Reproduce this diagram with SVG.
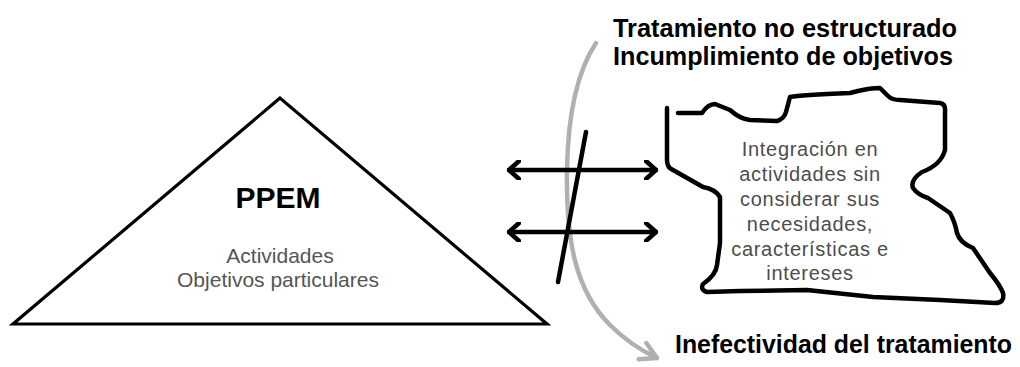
<svg xmlns="http://www.w3.org/2000/svg" width="1020" height="367" viewBox="0 0 1020 367">
  <defs>
    <style>
      .title { font-family: "Liberation Sans", Arial, sans-serif; font-weight: bold; font-size: 26px; fill: #000; }
      .body { font-family: "Liberation Sans", Arial, sans-serif; font-size: 21px; fill: #555; text-anchor: middle; }
      .blobtxt { font-family: "Liberation Sans", Arial, sans-serif; font-size: 20px; fill: #4d4d4d; text-anchor: middle; letter-spacing: 0.7px; }
      .shape { fill: #fff; stroke: #000; }
      .link { fill: none; stroke: #000; stroke-width: 4.5; stroke-linecap: round; stroke-linejoin: round; }
      .curve { fill: none; stroke: #b0b0b0; stroke-width: 4.5; stroke-linecap: round; }
    </style>
    <marker id="chev" viewBox="-12 -10 14 20" markerWidth="14" markerHeight="20" refX="0" refY="0" orient="auto-start-reverse" markerUnits="userSpaceOnUse">
      <path d="M-10,-9 L0,0 L-10,9" fill="none" stroke="#000" stroke-width="4.5" stroke-linecap="round" stroke-linejoin="round"/>
    </marker>
    <marker id="chevGray" viewBox="-20 -12 22 24" markerWidth="22" markerHeight="24" refX="0" refY="0" orient="auto" markerUnits="userSpaceOnUse">
      <path d="M-16,-9 L0,0 L-16,9" fill="none" stroke="#b0b0b0" stroke-width="4.5" stroke-linecap="round" stroke-linejoin="round"/>
    </marker>
  </defs>
  <rect width="1020" height="367" fill="#fff"/>

  <!-- headings -->
  <g id="heading-top">
    <text class="title" x="613" y="37" textLength="344" lengthAdjust="spacingAndGlyphs">Tratamiento no estructurado</text>
    <text class="title" x="613" y="65" textLength="340" lengthAdjust="spacingAndGlyphs">Incumplimiento de objetivos</text>
  </g>
  <g id="heading-bottom">
    <text class="title" x="675" y="353" font-size="25" style="font-size:25px" textLength="337" lengthAdjust="spacingAndGlyphs">Inefectividad del tratamiento</text>
  </g>

  <!-- PPEM pyramid -->
  <g id="ppem">
    <polygon class="shape" points="280,98 13,324 547,324" stroke-width="3.2" stroke-linejoin="miter"/>
    <text x="278" y="208" text-anchor="middle" font-family="Liberation Sans, Arial, sans-serif" font-weight="bold" font-size="30" fill="#000">PPEM</text>
    <text class="body" x="280" y="263">Actividades</text>
    <text class="body" x="278" y="287">Objetivos particulares</text>
  </g>

  <!-- irregular outline -->
  <g id="integracion">
    <path class="shape" stroke-width="4.5" stroke-linecap="round" stroke-linejoin="round"
      d="M678,113 L702,113 Q708,104 715,104 L730,110 Q740,119 750,120 L777,121 Q784,119 786,112 L790,97 Q800,95 850,93 L858,91 Q870,88 880,88 L888,96 Q892,100 900,100 L940,103 Q946,104 945,112 L945,150 Q941,165 922,172 Q910,180 913,188 Q918,195 928,198 L950,213 Q955,222 957,233 Q960,243 973,248 L990,273 Q1000,285 1003,293 Q1005,303 995,303 L940,300 L873,297 L807,290 L740,291 L707,292 Q700,290 703,284 Q716,275 717,265 L720,243 L720,197 Q715,189 703,187 L673,170 Q667,168 667,160 L667,108"/>
    <text class="blobtxt" x="810" y="156">Integración en</text>
    <text class="blobtxt" x="810" y="181">actividades sin</text>
    <text class="blobtxt" x="810" y="206">considerar sus</text>
    <text class="blobtxt" x="810" y="231">necesidades,</text>
    <text class="blobtxt" x="810" y="256">características e</text>
    <text class="blobtxt" x="810" y="280">intereses</text>
  </g>

  <!-- connectors -->
  <g id="connectors">
    <path class="curve" d="M596,43 C578,70 568,110 567,170 C566,240 575,290 610,325 C625,340 640,350 657,358" marker-end="url(#chevGray)"/>
    <line class="link" x1="509" y1="170" x2="656" y2="170" marker-start="url(#chev)" marker-end="url(#chev)"/>
    <line class="link" x1="509" y1="232" x2="656" y2="232" marker-start="url(#chev)" marker-end="url(#chev)"/>
    <line class="link" x1="586" y1="132" x2="558" y2="282"/>
  </g>
</svg>
